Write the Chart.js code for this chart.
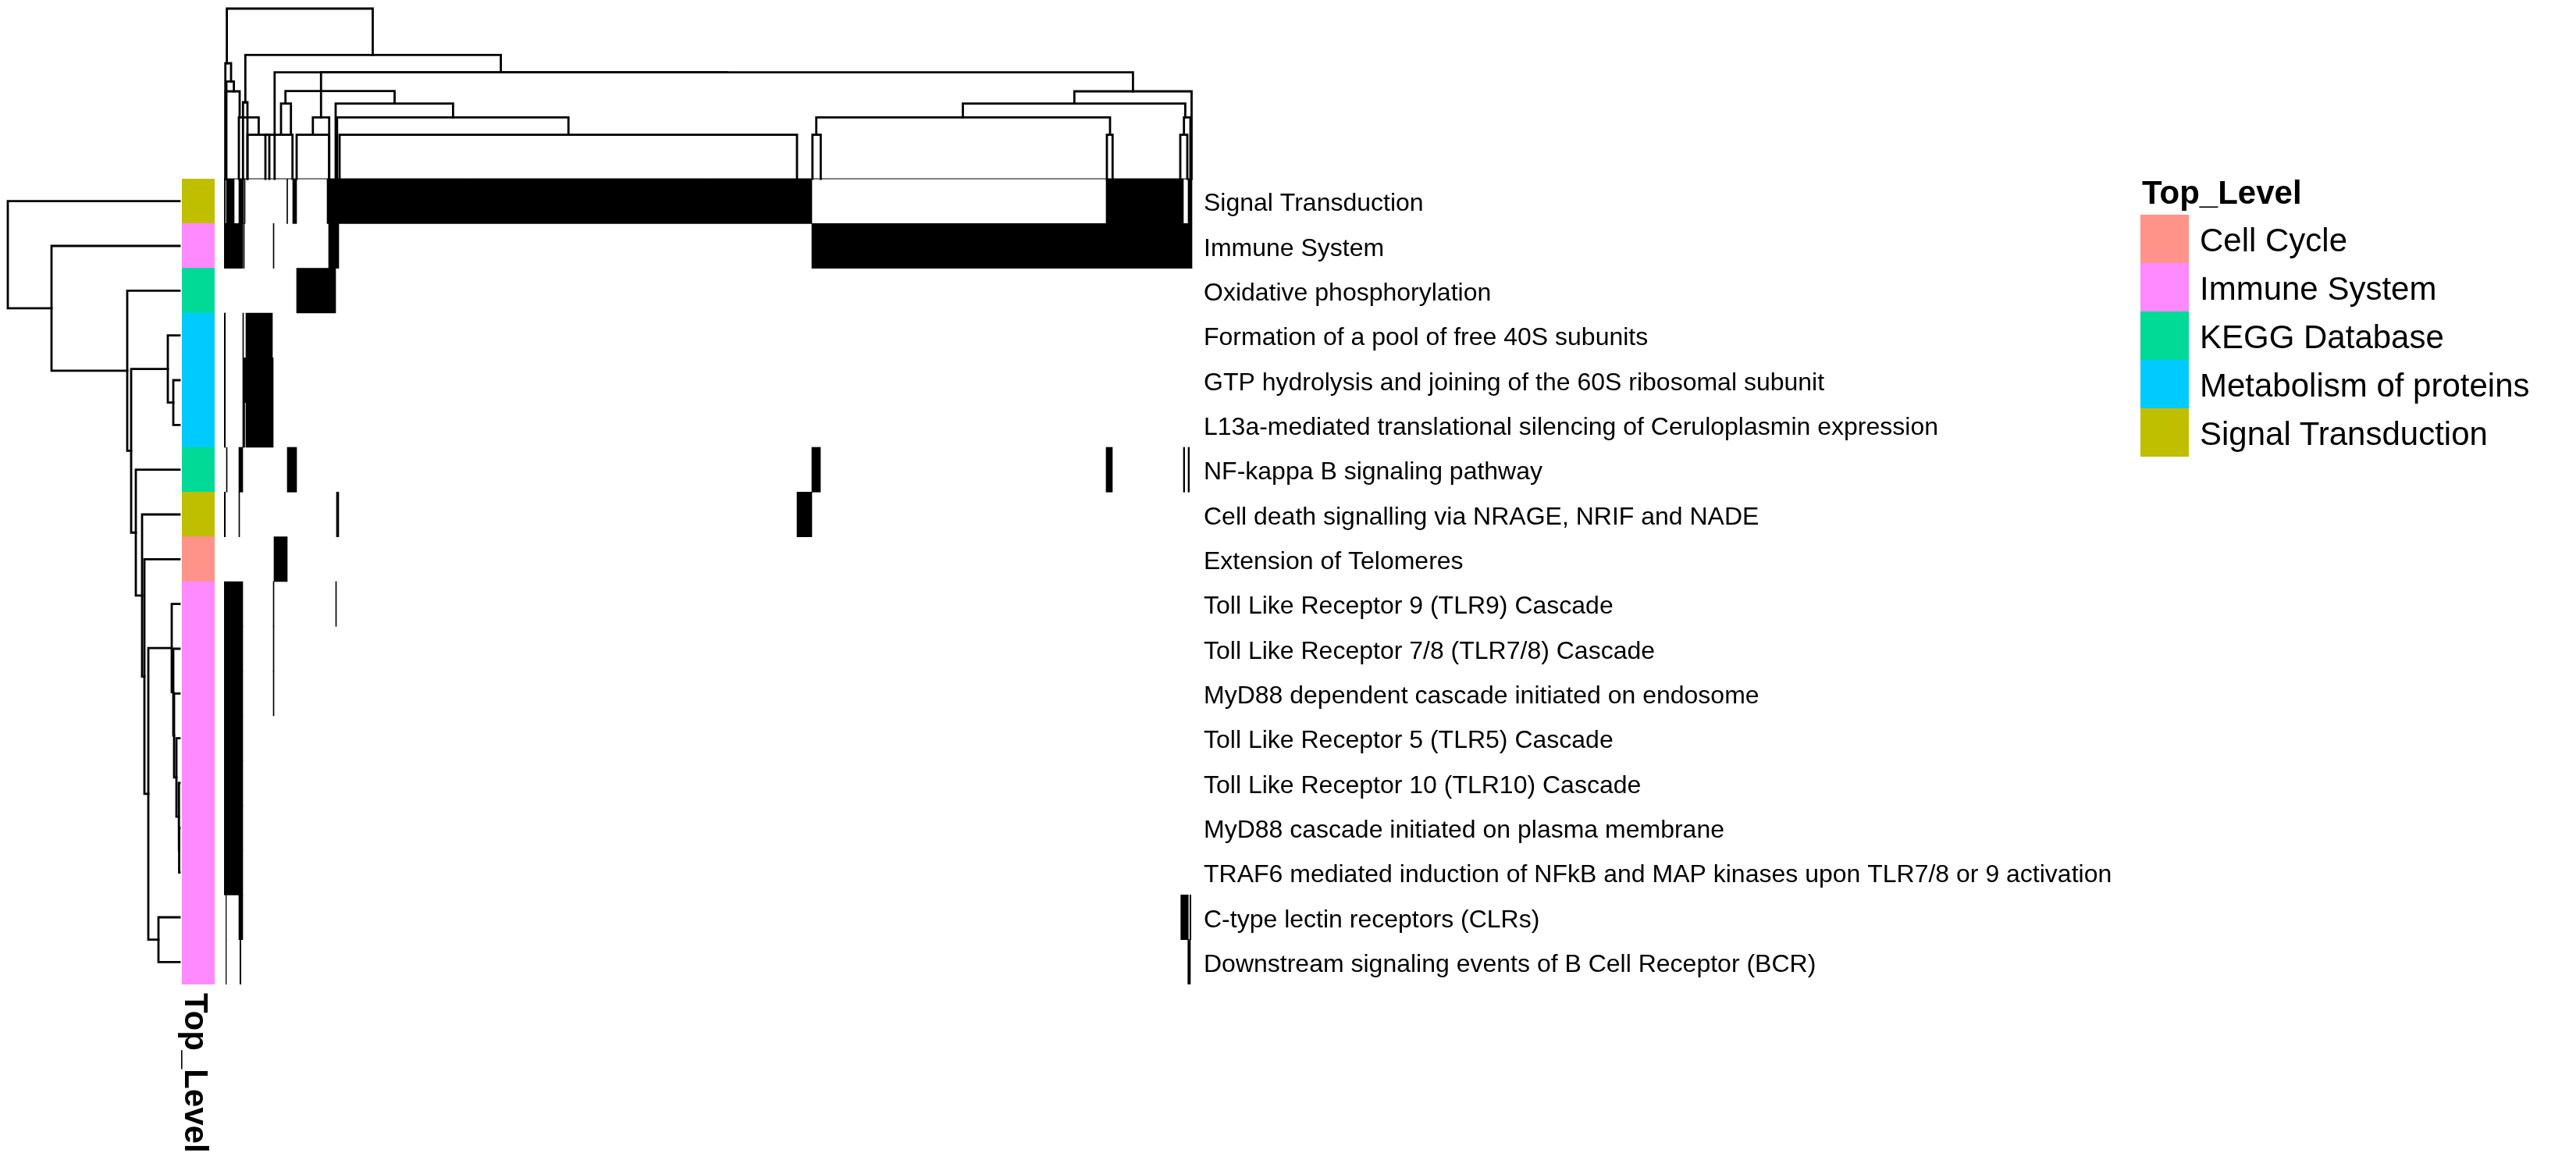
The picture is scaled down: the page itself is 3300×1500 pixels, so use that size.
<!DOCTYPE html>
<html>
<head>
<meta charset="utf-8">
<script src="https://cdn.jsdelivr.net/npm/chart.js@4.4.1/dist/chart.umd.min.js"></script>
<style>
  html, body { margin: 0; padding: 0; background: #fff; }
  body { width: 3300px; height: 1500px; position: relative; overflow: hidden; font-family: "Liberation Sans", Arial, sans-serif; }
  canvas { position: absolute; }
  .txt { position: absolute; white-space: nowrap; color: #000; font-family: "Liberation Sans", Arial, sans-serif; }
</style>
</head>
<body>
<canvas id="colDendro" width="1241" height="231" style="left:287px;top:0px;"></canvas>
<canvas id="rowDendro" width="240" height="1032" style="left:0px;top:229px;"></canvas>
<canvas id="annot" width="42" height="1032" style="left:233px;top:229px;"></canvas>
<canvas id="heat" width="2491" height="1032" style="left:287px;top:229px;"></canvas>
<div id="legend"></div>
<div class="txt" id="annTitle" style="left:272px;top:1272px;font-size:42px;line-height:42px;font-weight:bold;transform-origin:0 0;transform:rotate(90deg);">Top_Level</div>
<script>
// ---------------- DATA ----------------
const pathways = [
  "Signal Transduction",
  "Immune System",
  "Oxidative phosphorylation",
  "Formation of a pool of free 40S subunits",
  "GTP hydrolysis and joining of the 60S ribosomal subunit",
  "L13a-mediated translational silencing of Ceruloplasmin expression",
  "NF-kappa B signaling pathway",
  "Cell death signalling via NRAGE, NRIF and NADE",
  "Extension of Telomeres",
  "Toll Like Receptor 9 (TLR9) Cascade",
  "Toll Like Receptor 7/8 (TLR7/8) Cascade",
  "MyD88 dependent cascade initiated on endosome",
  "Toll Like Receptor 5 (TLR5) Cascade",
  "Toll Like Receptor 10 (TLR10) Cascade",
  "MyD88 cascade initiated on plasma membrane",
  "TRAF6 mediated induction of NFkB and MAP kinases upon TLR7/8 or 9 activation",
  "C-type lectin receptors (CLRs)",
  "Downstream signaling events of B Cell Receptor (BCR)"
];
const topLevel = [
  "Signal Transduction", "Immune System", "KEGG Database",
  "Metabolism of proteins", "Metabolism of proteins", "Metabolism of proteins",
  "KEGG Database", "Signal Transduction", "Cell Cycle",
  "Immune System", "Immune System", "Immune System", "Immune System", "Immune System",
  "Immune System", "Immune System", "Immune System", "Immune System"
];
const groupNames = ["Cell Cycle", "Immune System", "KEGG Database", "Metabolism of proteins", "Signal Transduction"];
const groupColors = ["#FF938A", "#FF89FF", "#00DA96", "#00CAFF", "#BFBF00"];

// number of gene columns (ordered by the column clustering)
const geneCount = 1241;
// gene membership: runs of member genes [first, last) per pathway
const membership = [
  [[0,1.5],[3,13],[19,25],[26,27],[80.5,81.5],[88,93],[132,753],[1130,1229],[1235,1240]],
  [[0,24],[25,26],[63,64],[134,147],[753,1240]],
  [[93,143]],
  [[0.3,1.7],[24,25],[28,62]],
  [[0.3,1.7],[24,63]],
  [[0.3,1.7],[24,26.5],[28,63]],
  [[3,4],[19,24],[81,93],[753,764],[1130,1138],[1229,1230.7],[1235,1236.7]],
  [[0.3,1.7],[19,20],[144,147],[734,753]],
  [[64,81]],
  [[0,24],[63,64],[143,144]],
  [[0,24],[63,64]],
  [[0,24],[63,64]],
  [[0,24]],
  [[0,24]],
  [[0,24]],
  [[0,24]],
  [[2.3,3],[19,24],[1225.7,1235.3],[1237.3,1238.7]],
  [[2.3,3],[20.3,21.7],[1234.7,1238]]
];

// row clustering (hclust style: negative = leaf row, positive = earlier merge), height
const rowMerges = [
  [-15, -16, 0.5],
  [-14, 1, 1],
  [-13, 2, 4],
  [-12, 3, 7],
  [-11, 4, 8],
  [-10, 5, 10],
  [-17, -18, 27],
  [6, 7, 40],
  [-9, 8, 45],
  [-8, 9, 48],
  [-7, 10, 56],
  [-5, -6, 8],
  [-4, 12, 15],
  [13, 11, 62],
  [-3, 14, 67],
  [-2, 15, 164],
  [-1, 16, 220]
];

// column clustering links: [left position, right position, height, left child height, right child height]
const colLinks = [
  [3.6, 190.5, 218, 148, 158.7],
  [27.3, 354.6, 158.7, 98, 136.3],
  [1.7, 9, 148, 0, 124.7],
  [3, 12.6, 124.7, 0, 112],
  [2, 20, 112, 0, 78.7],
  [19, 44.4, 78.7, 0, 56.3],
  [30, 58, 56.3, 0, 0],
  [53, 87.7, 56.3, 0, 0],
  [24.3, 30, 98, 0, 0],
  [73, 85.7, 96.3, 56.3, 56.3],
  [78.7, 218.5, 112.3, 96.3, 96.3],
  [64.8, 644.5, 136.3, 0, 136.3],
  [124.25, 1164.4, 136.3, 78.7, 112],
  [113.8, 134.7, 78.7, 56.3, 0],
  [93, 134.7, 56.3, 0, 0],
  [143, 293.4, 96.3, 0, 78.7],
  [144.8, 441.2, 78.7, 0, 56.3],
  [148, 734, 56.3, 0, 0],
  [1089.3, 1239.5, 112, 96.3, 0],
  [946.5, 1231.4, 96.3, 78.7, 78.7],
  [758.7, 1135, 78.7, 56.3, 56.3],
  [753.8, 764.4, 56.3, 0, 0],
  [1131, 1138.3, 56.3, 0, 0],
  [1229.7, 1238, 78.7, 56.3, 0],
  [1225, 1234, 56.3, 0, 0]
];

// ---------------- RENDER ----------------
const FONT = "'Liberation Sans', Arial, sans-serif";
Chart.defaults.font.family = FONT;
Chart.defaults.color = "#000";
const colorOf = g => groupColors[groupNames.indexOf(g)];
const baseOpts = {
  responsive: false, animation: false, devicePixelRatio: 1,
  plugins: { legend: { display: false }, tooltip: { enabled: false } }
};
function lineDs(points, width) {
  return { data: points, showLine: true, borderColor: "#000", borderWidth: width || 2.8,
           pointRadius: 0, fill: false, tension: 0, clip: false,
           borderCapStyle: "square", borderJoinStyle: "miter" };
}

// Column dendrogram
const colDs = colLinks.map(l => lineDs([
  {x: l[0], y: l[3]}, {x: l[0], y: l[2]}, {x: l[1], y: l[2]}, {x: l[1], y: l[4]}
]));
colDs.push(lineDs([{x: 0, y: 0}, {x: geneCount, y: 0}], 1));
new Chart(document.getElementById("colDendro"), {
  type: "scatter",
  data: { datasets: colDs },
  options: Object.assign({}, baseOpts, {
    layout: { padding: { bottom: 2 } },
    scales: {
      x: { type: "linear", min: 0, max: geneCount, display: false },
      y: { type: "linear", min: 0, max: 229, display: false }
    }
  })
});

// Row dendrogram
const mergePos = [];
const cPos = c => c < 0 ? (-c - 1) : mergePos[c - 1];
const cH = c => c < 0 ? 0 : rowMerges[c - 1][2];
const rowDs = rowMerges.map((m, i) => {
  const pa = cPos(m[0]), pb = cPos(m[1]);
  mergePos[i] = (pa + pb) / 2;
  return lineDs([{x: cH(m[0]), y: pa}, {x: m[2], y: pa}, {x: m[2], y: pb}, {x: cH(m[1]), y: pb}]);
});
new Chart(document.getElementById("rowDendro"), {
  type: "scatter",
  data: { datasets: rowDs },
  options: Object.assign({}, baseOpts, {
    layout: { padding: { left: 10, right: 10 } },
    scales: {
      x: { type: "linear", min: 0, max: 220, reverse: true, display: false },
      y: { type: "linear", min: -0.5, max: pathways.length - 0.5, reverse: true, display: false }
    }
  })
});

// Annotation column
new Chart(document.getElementById("annot"), {
  type: "bar",
  data: { labels: pathways, datasets: [{
    data: pathways.map(() => [0, 1]),
    backgroundColor: topLevel.map(colorOf), borderWidth: 0,
    barPercentage: 1, categoryPercentage: 1
  }]},
  options: Object.assign({}, baseOpts, {
    indexAxis: "y",
    scales: {
      x: { type: "linear", min: 0, max: 1, display: false },
      y: { display: false }
    }
  })
});

// Heatmap
const maxRuns = Math.max(...membership.map(r => r.length));
const heatDs = [];
for (let k = 0; k < maxRuns; k++) {
  heatDs.push({
    data: membership.map(r => r[k] ? r[k] : null),
    backgroundColor: "#000", borderWidth: 0,
    barPercentage: 1, categoryPercentage: 1, grouped: false
  });
}
new Chart(document.getElementById("heat"), {
  type: "bar",
  data: { labels: pathways, datasets: heatDs },
  options: Object.assign({}, baseOpts, {
    indexAxis: "y",
    scales: {
      x: { type: "linear", min: 0, max: geneCount, display: false },
      y: {
        position: "right",
        grid: { display: false, drawTicks: false },
        border: { display: false },
        ticks: { color: "#000", font: { size: 32, family: FONT }, padding: 14, autoSkip: false, labelOffset: 4 },
        afterFit: s => { s.width = 1250; s.paddingTop = 0; s.paddingBottom = 0; }
      }
    }
  })
});

// Legend
const leg = document.getElementById("legend");
const t = document.createElement("div");
t.className = "txt";
t.style.cssText = "left:2744px;top:226px;font-size:42px;line-height:42px;font-weight:bold;";
t.textContent = "Top_Level";
leg.appendChild(t);
groupNames.forEach((g, i) => {
  const sw = document.createElement("div");
  sw.style.cssText = `position:absolute;left:2742px;top:${275 + i * 62}px;width:62px;height:62px;background:${groupColors[i]};`;
  leg.appendChild(sw);
  const lb = document.createElement("div");
  lb.className = "txt";
  lb.style.cssText = `left:2818px;top:${287 + i * 62}px;font-size:42px;line-height:42px;`;
  lb.textContent = g;
  leg.appendChild(lb);
});
</script>
</body>
</html>
